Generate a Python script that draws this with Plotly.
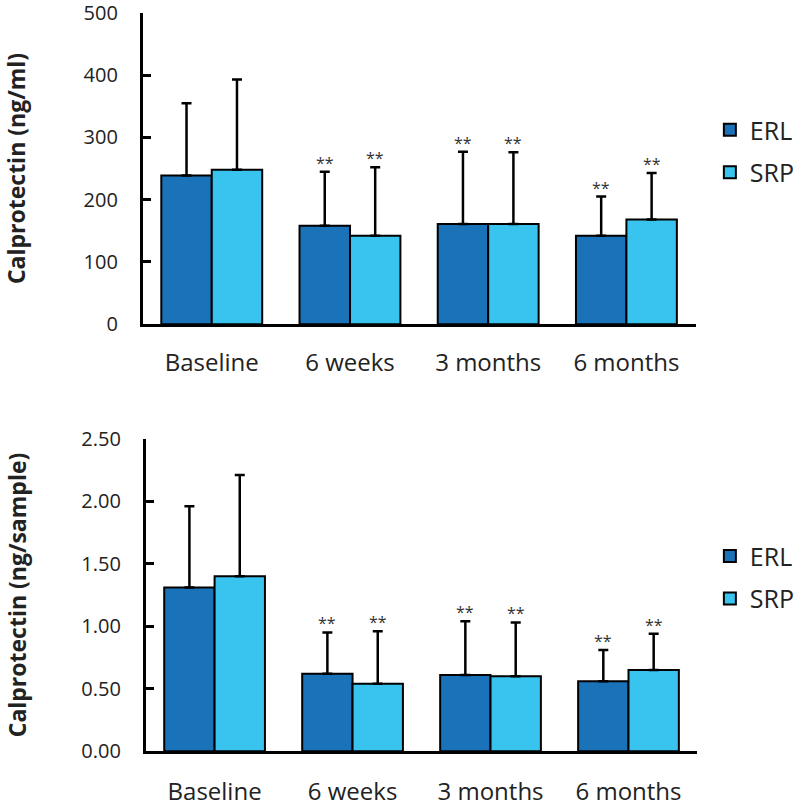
import plotly.graph_objects as go

categories = ["Baseline", "6 weeks", "3 months", "6 months"]

# Top panel: ng/ml
erl_ml = [239, 158, 161, 142]
erl_ml_sd = [116, 87, 116, 63]
srp_ml = [248, 142, 161, 168]
srp_ml_sd = [145, 110, 115, 75]

# Bottom panel: ng/sample
erl_s = [1.31, 0.62, 0.61, 0.56]
erl_s_sd = [0.65, 0.33, 0.43, 0.25]
srp_s = [1.40, 0.54, 0.60, 0.65]
srp_s_sd = [0.81, 0.42, 0.43, 0.29]

# significance markers (index of bars marked)
sig_idx = [1, 2, 3]

ERL_COLOR = "#1a72b9"
SRP_COLOR = "#38c4ef"
FONT = "Open Sans"

fig = go.Figure()

def add_pair(erl, erl_sd, srp, srp_sd, xa, ya, legend):
    for name, vals, sd, col in [("ERL", erl, erl_sd, ERL_COLOR), ("SRP", srp, srp_sd, SRP_COLOR)]:
        fig.add_trace(go.Bar(
            x=categories, y=vals, name=name, xaxis=xa, yaxis=ya,
            marker=dict(color=col, line=dict(color="black", width=2)),
            error_y=dict(type="data", array=sd, arrayminus=[0]*len(sd), symmetric=False,
                         color="black", thickness=2.5, width=5),
            legend=legend, legendgroup=legend + name, showlegend=True,
        ))

add_pair(erl_ml, erl_ml_sd, srp_ml, srp_ml_sd, "x", "y", "legend")
add_pair(erl_s, erl_s_sd, srp_s, srp_s_sd, "x2", "y2", "legend2")

bargap = 0.27
off = (1 - bargap) / 4

annotations = []
for xa, ya, erl, esd, srp, ssd in [("x", "y", erl_ml, erl_ml_sd, srp_ml, srp_ml_sd),
                                    ("x2", "y2", erl_s, erl_s_sd, srp_s, srp_s_sd)]:
    for i in sig_idx:
        for dx, v, s in [(-off, erl[i], esd[i]), (off, srp[i], ssd[i])]:
            annotations.append(dict(
                x=i + dx, y=v + s, xref=xa, yref=ya, text="**", showarrow=False,
                yanchor="middle", yshift=9, font=dict(family=FONT, size=16, color="#333333")))

axis_common = dict(showline=True, linecolor="black", linewidth=2.5, showgrid=False, zeroline=False)

fig.update_layout(
    width=800, height=807,
    paper_bgcolor="white", plot_bgcolor="white",
    margin=dict(l=0, r=0, t=0, b=0),
    barmode="group", bargap=bargap, bargroupgap=0,
    font=dict(family=FONT, color="#222222"),
    xaxis=dict(domain=[145/800, 707/800], anchor="y", ticks="", tickfont=dict(size=24),
               ticklabelstandoff=15, range=[-0.5, 3.5], ticklabeloverflow="allow", **axis_common),
    yaxis=dict(domain=[1-327/807, 1-13/807], anchor="x", range=[0, 500], dtick=100,
               ticks="inside", ticklen=9, tickwidth=2.5, tickcolor="black",
               tickfont=dict(size=20), ticklabelstandoff=18, ticklabeloverflow="allow",
               title=dict(text="<b>Calprotectin (ng/ml)</b>", font=dict(size=23), standoff=52),
               automargin=False, **axis_common),
    xaxis2=dict(domain=[148/800, 709/800], anchor="y2", ticks="", tickfont=dict(size=24),
                ticklabelstandoff=17, range=[-0.5, 3.5], ticklabeloverflow="allow", **axis_common),
    yaxis2=dict(domain=[1-757.7/807, 1-442.7/807], anchor="x2", range=[0, 2.5], dtick=0.5,
                tickformat=".2f",
                ticks="inside", ticklen=9, tickwidth=2.5, tickcolor="black",
                tickfont=dict(size=20), ticklabelstandoff=18, ticklabeloverflow="allow",
                title=dict(text="<b>Calprotectin (ng/sample)</b>", font=dict(size=23), standoff=49),
                automargin=False, **axis_common),
    legend=dict(x=0.902, y=1-108/807, xanchor="left", yanchor="top",
                font=dict(size=25), tracegroupgap=7, bgcolor="rgba(0,0,0,0)"),
    legend2=dict(x=0.902, y=1-538/807, xanchor="left", yanchor="top",
                 font=dict(size=25), tracegroupgap=7, bgcolor="rgba(0,0,0,0)"),
    annotations=annotations,
    showlegend=True,
)

fig.write_html("out.html", config={"displayModeBar": False},
               post_script="document.body.style.margin='0px';")
